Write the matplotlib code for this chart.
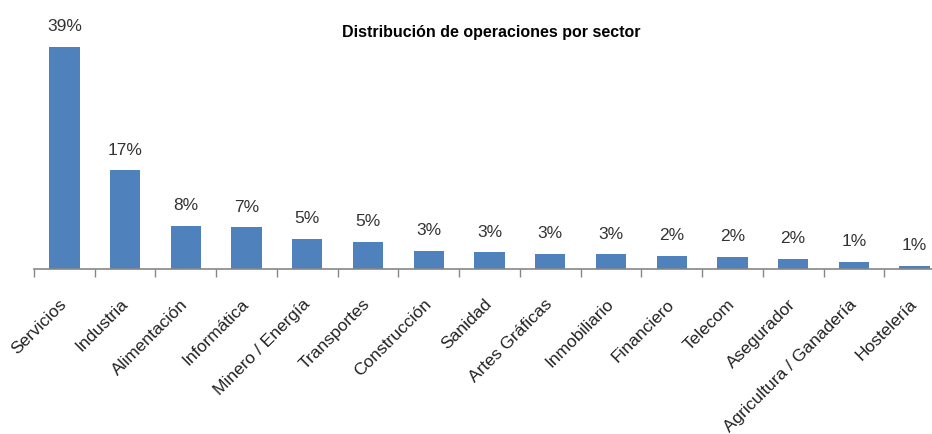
import numpy as np
import matplotlib.pyplot as plt
from matplotlib import font_manager

# Data
sectores = ['Servicios', 'Industria', 'Alimentación', 'Informática', 'Minero / Energía',
            'Transportes', 'Construcción', 'Sanidad', 'Artes Gráficas', 'Inmobiliario',
            'Financiero', 'Telecom', 'Asegurador', 'Agricultura / Ganadería', 'Hostelería']
porcentajes = [39.0, 17.3, 7.6, 7.3, 5.3, 4.7, 3.2, 2.9, 2.6, 2.55, 2.3, 2.1, 1.8, 1.2, 0.6]
titulo = 'Distribución de operaciones por sector'

bar_color = '#4F81BD'
axis_color = '#868686'

plt.rcParams['font.family'] = ['Liberation Sans', 'DejaVu Sans']

names = {f.name for f in font_manager.fontManager.ttflist}
if 'Liberation Sans Narrow' in names:
    title_font, title_size = 'Liberation Sans Narrow', 13.5
else:
    title_font, title_size = 'Liberation Sans', 11.5

fig = plt.figure(figsize=(9.32, 4.35), dpi=100)
ax = fig.add_axes([34/932, 165/435, 911/932, 256.5/435])

x = np.arange(len(sectores))
bars = ax.bar(x, porcentajes, width=0.5, color=bar_color, zorder=2)

for xi, v in zip(x, porcentajes):
    ax.annotate(f'{v:.0f}%', (xi, v), xytext=(0, 10), textcoords='offset points',
                ha='center', va='bottom', fontsize=12.5, color='#333333')

ax.set_xlim(-0.5, len(sectores) - 0.5)
ax.set_ylim(0, 45)

# category boundary ticks
ax.set_xticks(np.arange(-0.5, len(sectores), 1.0), minor=True)
ax.tick_params(axis='x', which='minor', length=6, width=1, color=axis_color, direction='out')
ax.set_xticks(x)
ax.set_xticklabels(sectores, rotation=45, ha='right', va='center', rotation_mode='anchor',
                   fontsize=12.5, color='#222222')
ax.tick_params(axis='x', which='major', length=0, pad=23)

ax.set_yticks([])
for s in ['left', 'top', 'right']:
    ax.spines[s].set_visible(False)
ax.spines['bottom'].set_color(axis_color)
ax.spines['bottom'].set_linewidth(1.2)

fig.text(491/932, 1 - 32/435, titulo, ha='center', va='center',
         fontsize=title_size, fontweight='bold', family=title_font)

fig.savefig('out.png', dpi=100)
